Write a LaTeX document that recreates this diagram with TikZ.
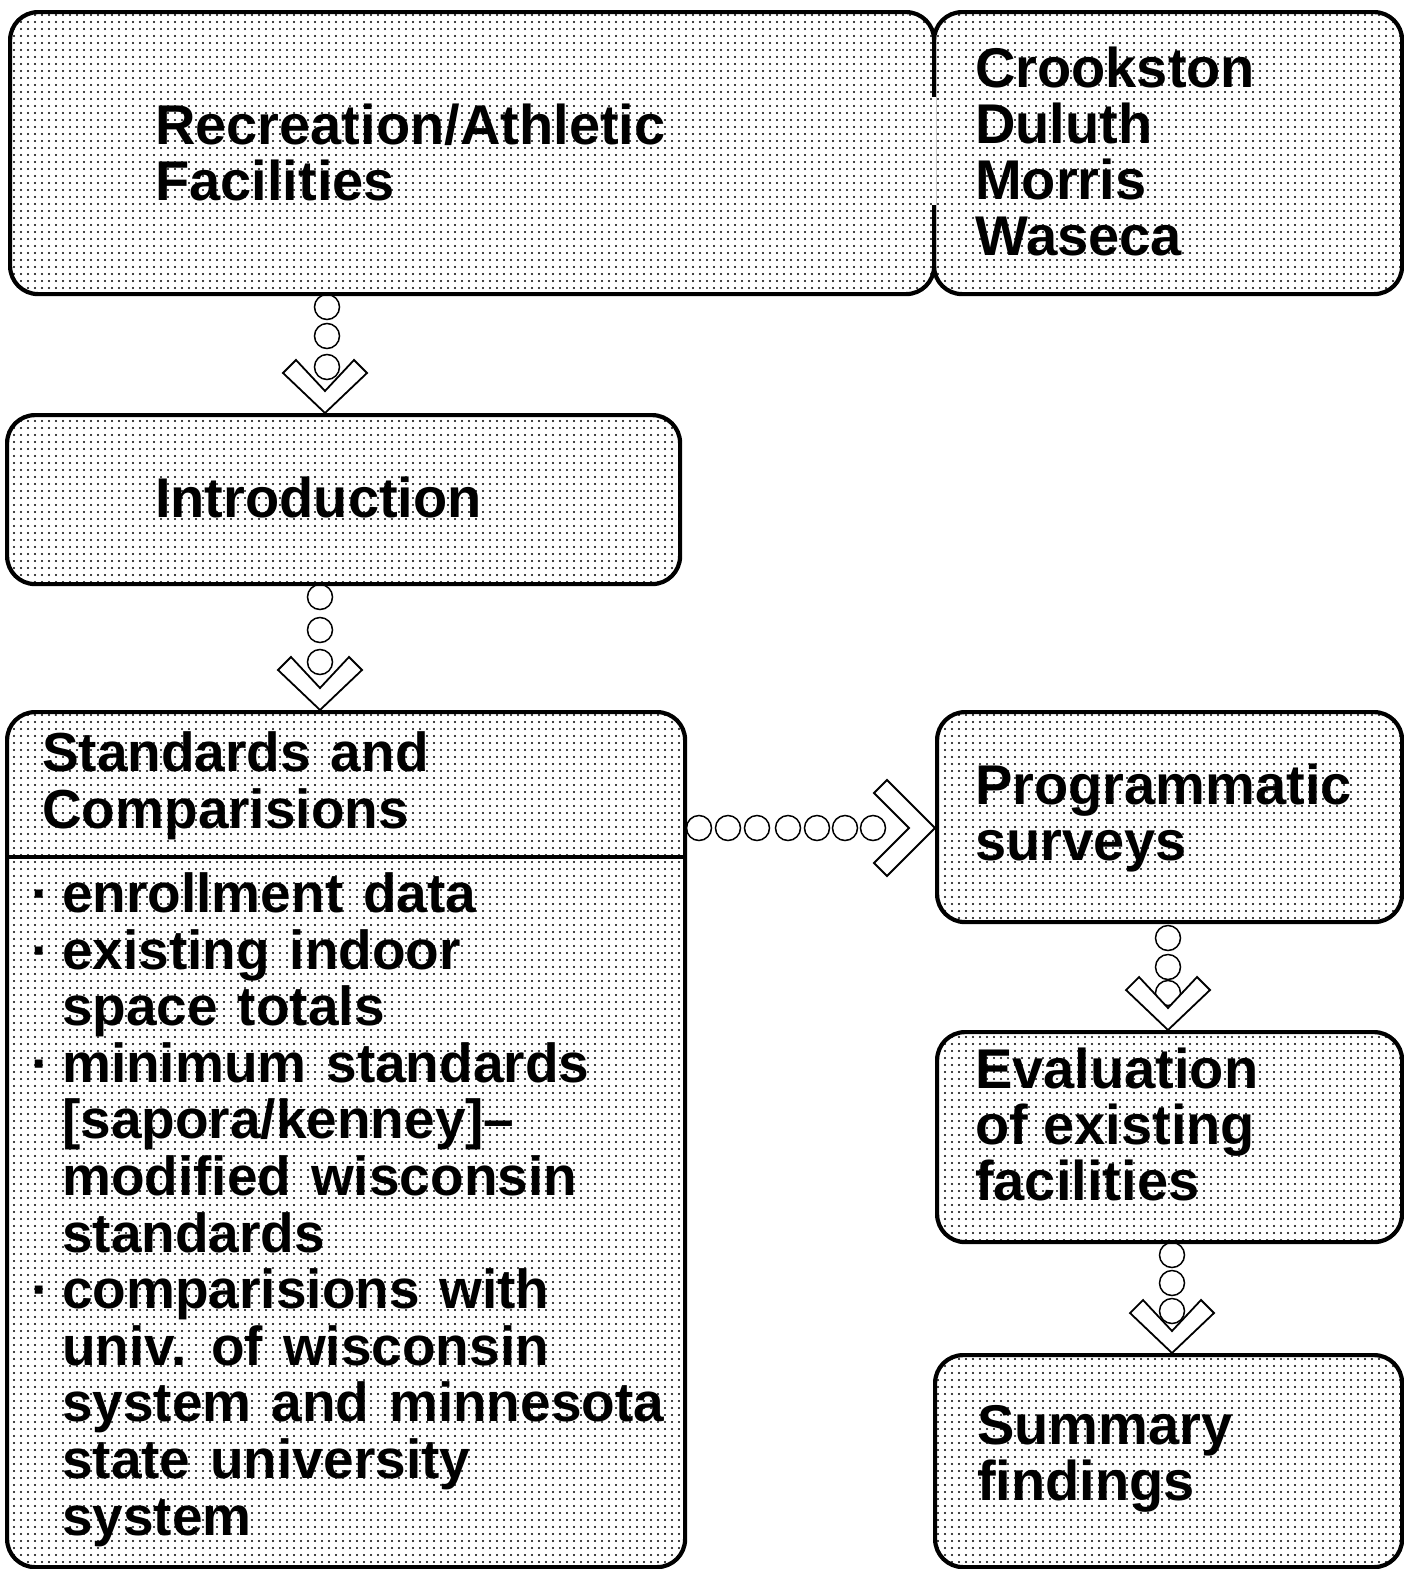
\documentclass[tikz,border=0pt]{standalone}
\usepackage{fontspec}
\setmainfont{Liberation Sans}
\usetikzlibrary{patterns.meta,calc}
\newcommand{\bigfont}{\fontsize{56}{55.7}\selectfont\bfseries}
\newcommand{\listfont}{\fontsize{55}{56.6}\selectfont\bfseries\spaceskip=0.36em\relax}
\newcommand{\blt}{\llap{·\hskip 12pt}}
\tikzset{
  panel/.style={draw, line width=4.2pt, rounded corners=28pt, rectangle, inner sep=0pt,
    anchor=north west, pattern={Dots[distance=7pt,radius=1.15pt]}},
  lbl/.style={anchor=base west, inner sep=0pt, align=left, font=\bigfont},
  ring/.style={draw, circle, line width=1.5pt, minimum size=25pt, inner sep=0pt},
  chev/.style={draw, line width=1.8pt, fill=white, line join=miter},
  downchev/.pic={\draw[chev] (0,0)--(-42,-40)--(-29,-53)--(0,-22)--(29,-53)--(42,-40)--cycle;},
  rightchev/.pic={\draw[chev] (0,0)--(-48,-48)--(-61,-35)--(-26,0)--(-61,35)--(-48,48)--cycle;}
}
\begin{document}
\begin{tikzpicture}[x=1pt,y=-1pt]
\useasboundingbox (0,0) rectangle (1403,1569);
% boxes
\node[panel, minimum width=924pt, minimum height=282pt] (rec) at (8,10) {};
\node[panel, minimum width=468pt, minimum height=282pt] (camp) at (932,10) {};
\fill[white] (929,97) rectangle (935.5,205);
\fill[pattern={Dots[distance=7pt,radius=1.15pt]}] (929,97) rectangle (935.5,205);
\node[panel, minimum width=673pt, minimum height=169pt] (intro) at (5,413) {};
\node[panel, minimum width=678pt, minimum height=855pt] (std) at (5,710) {};
\node[panel, minimum width=465pt, minimum height=210pt] (prog) at (935,710) {};
\node[panel, minimum width=465pt, minimum height=210pt] (eval) at (935,1030) {};
\node[panel, minimum width=467pt, minimum height=212pt] (sum) at (933,1353) {};
\draw[line width=4.2pt] (std.west |- 0,857) -- (std.east |- 0,857);
% texts (base anchor = baseline of the last line)
\node[lbl] (recT) at (155,200) {Recreation/Athletic\\Facilities};
\node[lbl] (campT) at (975,255) {Crookston\\Duluth\\Morris\\Waseca};
\node[lbl] (introT) at (155,517) {Introduction};
\node[lbl, font=\listfont] (stdT) at (42,828) {Standards and\\Comparisions};
\node[lbl, font=\listfont] (listT) at (62,1535) {\blt enrollment data\\
\blt existing indoor\\
space totals\\
\blt minimum standards\\
{[}sapora/kenney]–\\
modified wisconsin\\
standards\\
\blt comparisions with\\
univ. of wisconsin\\
system and minnesota\\
state university\\
system};
\node[lbl] (progT) at (975,860) {Programmatic\\surveys};
\node[lbl] (evalT) at (975,1200) {Evaluation\\of existing\\facilities};
\node[lbl] (sumT) at (977,1500) {Summary\\findings};
% connector 1: rec -> intro
\coordinate (t1) at (325,0 |- intro.north);
\node[ring] (r11) at (327,307) {};
\node[ring] (r12) at (327,336) {};
\node[ring] (r13) at (327,367) {};
\pic at (t1) {downchev};
% connector 2: intro -> std
\coordinate (t2) at (320,0 |- std.north);
\node[ring] (r21) at (320,597) {};
\node[ring] (r22) at (320,630) {};
\node[ring] (r23) at (320,662) {};
\pic at (t2) {downchev};
% connector 3: std -> prog
\coordinate (t3) at (prog.west |- 0,828);
\foreach \i/\x in {1/699,2/728,3/757,4/788,5/817,6/845,7/873}{
  \node[ring] (r3\i) at (\x,828) {};
}
\pic at (t3) {rightchev};
% connector 4: prog -> eval
\coordinate (t4) at (1168,0 |- eval.north);
\node[ring] (r41) at (1168,938) {};
\node[ring] (r42) at (1168,967) {};
\node[ring] (r43) at (1168,993) {};
\pic at (t4) {downchev};
% connector 5: eval -> sum
\coordinate (t5) at (1172,0 |- sum.north);
\node[ring] (r51) at (1172,1255) {};
\node[ring] (r52) at (1172,1283) {};
\node[ring] (r53) at (1172,1311) {};
\pic at (t5) {downchev};
\end{tikzpicture}
\end{document}
